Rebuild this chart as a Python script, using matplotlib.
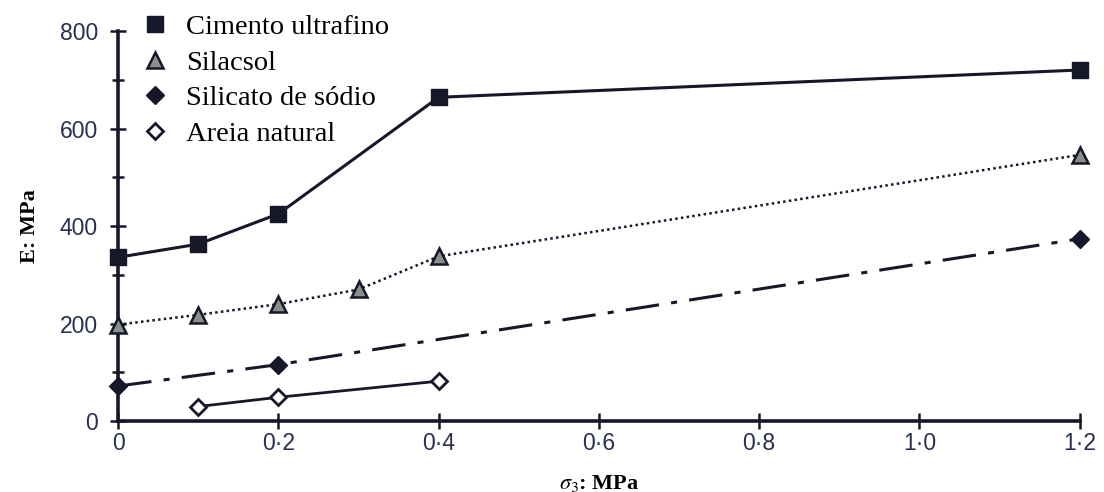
"""
E vs sigma3 for grouted sands
"""
import matplotlib
matplotlib.use("Agg")
import matplotlib.pyplot as plt
from matplotlib.lines import Line2D
from matplotlib.ticker import MultipleLocator, FuncFormatter

# data
cimento_x = [0.0, 0.1, 0.2, 0.4, 1.2]
cimento_y = [336, 363, 425, 664, 720]

silacsol_x = [0.0, 0.1, 0.2, 0.3, 0.4, 1.2]
silacsol_y = [198, 218, 240, 270, 338, 546]

silicato_x = [0.0, 0.2, 1.2]
silicato_y = [72, 116, 374]

areia_x = [0.1, 0.2, 0.4]
areia_y = [30, 49, 82]

labels = ["Cimento ultrafino", "Silacsol", "Silicato de sódio", "Areia natural"]

ink = "#16182a"
plt.rcParams["mathtext.fontset"] = "stix"

fig = plt.figure(figsize=(11.04, 4.92), dpi=100)
ax = fig.add_axes([0.107, 0.144, 0.871, 0.793])

ax.plot(cimento_x, cimento_y, color=ink, lw=2.2, marker="s", ms=12,
        mfc=ink, mec=ink, clip_on=False, zorder=3)
ax.plot(silacsol_x, silacsol_y, color=ink, lw=1.8, ls=(0, (1, 1.3)),
        marker="^", ms=12, mfc="#8a8f8a", mec=ink, mew=1.8, clip_on=False, zorder=3)
ax.plot(silicato_x, silicato_y, color=ink, lw=2.2, ls=(0, (11, 4, 2, 4)),
        marker="D", ms=9, mfc=ink, mec=ink, clip_on=False, zorder=3)
ax.plot(areia_x, areia_y, color=ink, lw=2.0, marker="D", ms=8,
        mfc="white", mec=ink, mew=2.0, clip_on=False, zorder=3)

ax.set_xlim(0, 1.2)
ax.set_ylim(0, 800)
ax.xaxis.set_major_locator(MultipleLocator(0.2))
ax.yaxis.set_major_locator(MultipleLocator(200))
ax.yaxis.set_minor_locator(MultipleLocator(100))
ax.xaxis.set_major_formatter(FuncFormatter(
    lambda v, p: "0" if abs(v) < 1e-9 else ("%.1f" % v).replace(".", "·")))

for s in ["top", "right"]:
    ax.spines[s].set_visible(False)
for s in ["left", "bottom"]:
    ax.spines[s].set_linewidth(2.6)
    ax.spines[s].set_color(ink)

ax.tick_params(which="both", direction="inout", color=ink, width=1.8,
               labelsize=16.5, labelcolor="#283050", pad=9)
ax.tick_params(axis="x", pad=2)
ax.tick_params(which="major", length=11)
ax.tick_params(which="minor", length=9)
for t in ax.get_xticklabels() + ax.get_yticklabels():
    t.set_family("Liberation Sans")

ax.set_xlabel(r"$\sigma_3$: MPa", family="Liberation Serif", fontweight="bold",
              fontsize=16, labelpad=13)
ax.set_ylabel("E: MPa", family="Liberation Serif", fontweight="bold",
              fontsize=16, labelpad=14)

handles = [
    Line2D([], [], ls="none", marker="s", ms=11, mfc=ink, mec=ink),
    Line2D([], [], ls="none", marker="^", ms=11, mfc="#8a8f8a", mec=ink, mew=1.8),
    Line2D([], [], ls="none", marker="D", ms=9, mfc=ink, mec=ink),
    Line2D([], [], ls="none", marker="D", ms=8, mfc="white", mec=ink, mew=2.0),
]
leg = ax.legend(handles, labels, loc="upper left", bbox_to_anchor=(0.0, 1.11),
                frameon=False, handlelength=0.8, handletextpad=0.7,
                labelspacing=0.35, prop={"family": "Liberation Serif", "size": 20.5})

fig.savefig("out.png", dpi=100)
